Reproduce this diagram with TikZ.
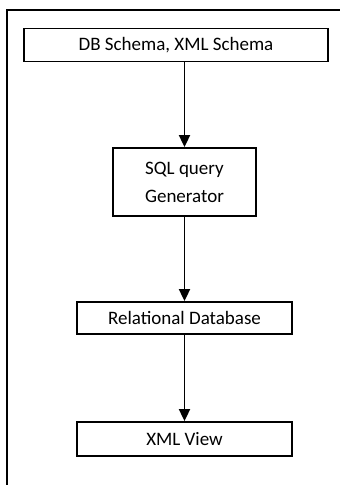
\documentclass[tikz,border=0pt]{standalone}
\usepackage{fontspec}
\setmainfont{Carlito}
\usetikzlibrary{arrows.meta,positioning}
\tikzset{
  box/.style={draw=black, line width=1.8pt, align=center, inner sep=0pt, font=\fontsize{19}{28}\selectfont},
  arrow/.style={-{Triangle[length=12pt,width=11pt]}, line width=1.8pt}
}
\begin{document}
\begin{tikzpicture}[x=1pt, y=-1pt]
\clip (0,0) rectangle (340,485);
\draw[line width=1.6pt] (7,10) rectangle (360,500);
\node[box, minimum width=304pt, minimum height=33pt] (schema) at (176,45) {DB Schema, XML Schema};
\node[box, minimum width=143pt, minimum height=68pt] (gen) at (184.5,182) {SQL query\\Generator};
\node[box, minimum width=215pt, minimum height=32pt] (rdb) at (184.5,318) {Relational Database};
\node[box, minimum width=215pt, minimum height=34pt] (view) at (184.5,439) {XML View};
\draw[arrow] (schema.south -| gen.north) -- (gen.north);
\draw[arrow] (gen) -- (rdb);
\draw[arrow] (rdb) -- (view);
\end{tikzpicture}
\end{document}
